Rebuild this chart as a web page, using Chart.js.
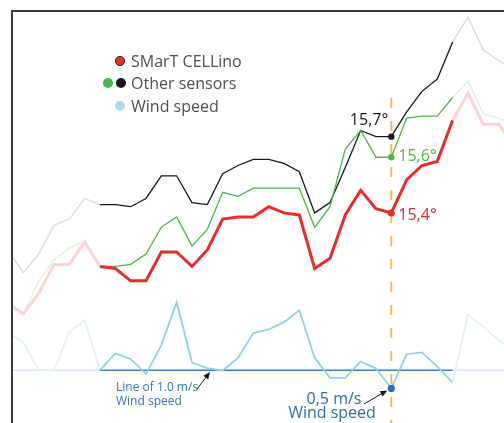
<!DOCTYPE html>
<html>
<head>
<meta charset="utf-8">
<script src="https://cdn.jsdelivr.net/npm/chart.js@4"></script>
<style>
  html, body { margin: 0; padding: 0; background: #fff; overflow: hidden; }
  #wrap { width: 504px; height: 423px; position: relative; }
</style>
</head>
<body>
<div id="wrap"><canvas id="chart"></canvas></div>
<script>
// sample index along the time axis (one reading every step)
const samples = [0, 1, 2, 3, 4, 5, 6, 7, 8, 9, 10, 11, 12, 13, 14, 15, 16,
    17, 18, 19, 20, 21, 22, 23, 24, 25, 26, 27, 28, 29, 30, 31, 32, 33];

// temperatures in degrees
const cellino = [14.88, 14.83, 14.93, 15.07, 15.07, 15.18, 15.06, 15.05, 14.99, 14.99,
    15.13, 15.13, 15.06, 15.14, 15.29, 15.30, 15.30, 15.35, 15.32, 15.31,
    15.05, 15.10, 15.31, 15.43, 15.34, 15.32, 15.48, 15.55, 15.57, 15.77,
    15.90, 15.75, 15.75, 15.65];
const sensorGreen = [14.87, 14.83, 14.99, 15.09, 15.15, 15.18, 15.06, 15.06, 15.07, 15.12,
    15.25, 15.30, 15.16, 15.24, 15.42, 15.40, 15.44, 15.44, 15.44, 15.44,
    15.25, 15.35, 15.63, 15.72, 15.59, 15.59, 15.78, 15.79, 15.79, 15.88,
    15.96, 15.80, 15.78, 15.75];
const sensorBlack = [15.14, 15.03, 15.12, 15.26, 15.29, 15.39, 15.36, 15.36, 15.35, 15.39,
    15.50, 15.50, 15.37, 15.36, 15.51, 15.55, 15.58, 15.58, 15.56, 15.52,
    15.32, 15.37, 15.54, 15.72, 15.69, 15.69, 15.81, 15.91, 15.97, 16.15,
    16.27, 16.11, 16.06, 16.01];

// wind speed in m/s
const wind = [2.02, 1.77, 1.0, 1.0, 2.05, 2.37, 1.0, 1.46, 1.31, 0.90,
    1.69, 2.87, 1.21, 1.06, 0.99, 1.34, 2.02, 2.12, 2.32, 2.65,
    1.34, 0.79, 0.79, 1.24, 1.05, 0.50, 1.44, 1.49, 1.10, 0.66,
    2.53, 2.19, 1.83, 1.50];

const windRef = 1.0;       // m/s reference line
const markIndex = 25;      // highlighted reading
const focusFrom = 6;       // readings shown in full colour
const focusTo = 29;

const labelTexts = {
    black: '15,7°',
    green: '15,6°',
    red: '15,4°',
    wind: ['0,5 m/s', 'Wind speed'],
    ref: ['Line of 1.0 m/s', 'Wind speed']
};

const FONT = '"Open Sans", "Noto Sans", sans-serif';

function fadeSegment(full, faded) {
    return {
        borderColor: c => (c.p0DataIndex < focusFrom || c.p0DataIndex >= focusTo) ? faded : full
    };
}

function markRadius(r) {
    return c => c.dataIndex === markIndex ? r : 0;
}

function lineSet(label, data, axis, full, faded, width, dotColor, dotR, order) {
    return {
        label: label,
        data: data,
        yAxisID: axis,
        borderColor: full,
        borderWidth: width,
        segment: fadeSegment(full, faded),
        pointRadius: markRadius(dotR),
        pointHoverRadius: 0,
        pointBackgroundColor: dotColor,
        pointBorderWidth: 0,
        tension: 0,
        fill: false,
        order: order
    };
}

const sketch = {
    id: 'sketch',
    beforeDatasetsDraw(chart) {
        const { ctx, chartArea: a, scales } = chart;
        const xm = scales.x.getPixelForValue(markIndex);
        const x0 = scales.x.getPixelForValue(focusFrom);
        const x1 = scales.x.getPixelForValue(focusTo);
        const yr = scales.yW.getPixelForValue(windRef);
        ctx.save();
        ctx.lineWidth = 1.5;
        ctx.strokeStyle = '#dae6f4';
        ctx.beginPath();
        ctx.moveTo(a.left, yr); ctx.lineTo(x0, yr);
        ctx.moveTo(x1, yr); ctx.lineTo(a.right, yr);
        ctx.stroke();
        ctx.strokeStyle = '#3f7cc8';
        ctx.beginPath();
        ctx.moveTo(x0, yr); ctx.lineTo(x1, yr);
        ctx.stroke();

        // dashed marker
        ctx.strokeStyle = '#f8b84e';
        ctx.lineWidth = 2;
        ctx.setLineDash([10, 13]);
        ctx.beginPath();
        ctx.moveTo(xm, 98);
        ctx.lineTo(xm, a.bottom);
        ctx.stroke();
        ctx.restore();
    },
    afterDraw(chart) {
        const { ctx, chartArea: a } = chart;
        ctx.save();

        // frame
        ctx.strokeStyle = '#3a3a3a';
        ctx.lineWidth = 2;
        ctx.beginPath();
        ctx.moveTo(a.left, a.bottom);
        ctx.lineTo(a.left, a.top);
        ctx.lineTo(a.right, a.top);
        ctx.stroke();

        // legend
        const dot = (x, y, r, fill, stroke) => {
            ctx.beginPath();
            ctx.arc(x, y, r, 0, Math.PI * 2);
            ctx.fillStyle = fill;
            ctx.fill();
            if (stroke) { ctx.lineWidth = 1; ctx.strokeStyle = stroke; ctx.stroke(); }
        };
        dot(120, 61, 4.6, '#ee2a2a', '#222');
        dot(108, 83, 5, '#4cb848');
        dot(121, 83, 5, '#1a1a1a');
        dot(120, 106, 5, '#a9dcee');
        ctx.fillStyle = '#505050';
        ctx.font = '16px ' + FONT;
        ctx.textBaseline = 'alphabetic';
        ctx.textAlign = 'left';
        ctx.fillText('SMarT CELLino', 131, 67);
        ctx.fillText('Other sensors', 131, 89);
        ctx.fillText('Wind speed', 131, 112);

        // value labels beside the highlighted readings
        const pt = i => chart.getDatasetMeta(i).data[markIndex];
        const pBlack = pt(2), pGreen = pt(1), pRed = pt(0), pWind = pt(3);
        ctx.font = '16px ' + FONT;
        ctx.fillStyle = '#1a1a1a';
        ctx.textAlign = 'right';
        ctx.fillText(labelTexts.black, pBlack.x - 3, pBlack.y - 12);
        ctx.textAlign = 'left';
        ctx.fillStyle = '#4cb848';
        ctx.fillText(labelTexts.green, pGreen.x + 7, pGreen.y + 4);
        ctx.fillStyle = '#ec2b2b';
        ctx.fillText(labelTexts.red, pRed.x + 7, pRed.y + 7);

        // wind annotation
        ctx.fillStyle = '#2f6db5';
        ctx.textAlign = 'center';
        ctx.fillText(labelTexts.wind[0], 334, 404);
        ctx.fillText(labelTexts.wind[1], 332, 418);
        arrow(364, 404, pWind.x - 4, pWind.y + 2);

        ctx.font = '12px ' + FONT;
        ctx.textAlign = 'left';
        ctx.fillStyle = '#3a74c0';
        ctx.fillText(labelTexts.ref[0], 116, 391);
        ctx.fillText(labelTexts.ref[1], 116, 405);
        arrow(197, 389, 210, 372);

        function arrow(xa, ya, xb, yb) {
            const ang = Math.atan2(yb - ya, xb - xa);
            ctx.strokeStyle = '#1a1a1a';
            ctx.fillStyle = '#1a1a1a';
            ctx.lineWidth = 1;
            ctx.beginPath();
            ctx.moveTo(xa, ya);
            ctx.lineTo(xb - 5 * Math.cos(ang), yb - 5 * Math.sin(ang));
            ctx.stroke();
            ctx.beginPath();
            ctx.moveTo(xb, yb);
            ctx.lineTo(xb - 7 * Math.cos(ang) + 3 * Math.sin(ang), yb - 7 * Math.sin(ang) - 3 * Math.cos(ang));
            ctx.lineTo(xb - 7 * Math.cos(ang) - 3 * Math.sin(ang), yb - 7 * Math.sin(ang) + 3 * Math.cos(ang));
            ctx.closePath();
            ctx.fill();
        }
        ctx.restore();
    }
};

new Chart(document.getElementById('chart'), {
    type: 'line',
    data: {
        labels: samples,
        datasets: [
            lineSet('SMarT CELLino', cellino, 'yT', '#ec2b2b', '#fcd3d1', 3, '#ec2b2b', 3.5, 0),
            lineSet('Other sensors (green)', sensorGreen, 'yT', '#4cb848', '#dff0dc', 1.3, '#4cb848', 3.2, 1),
            lineSet('Other sensors (black)', sensorBlack, 'yT', '#1a1a1a', '#d9d9d9', 1.3, '#1a1a1a', 3.2, 2),
            lineSet('Wind speed', wind, 'yW', '#8fd2e9', '#e2f2f8', 1.8, '#2c6bbf', 3.6, 3)
        ]
    },
    options: {
        responsive: true,
        maintainAspectRatio: false,
        animation: false,
        events: [],
        layout: { padding: { left: 12, top: 11, right: 0, bottom: 0 } },
        scales: {
            x: { type: 'linear', min: 0.26, max: 32.35, display: false },
            yT: { type: 'linear', min: 14.3, max: 16.3, display: false },
            yW: { type: 'linear', min: -0.45, max: 10.87, display: false }
        },
        plugins: {
            legend: { display: false },
            tooltip: { enabled: false }
        }
    },
    plugins: [sketch]
});
</script>
</body>
</html>
